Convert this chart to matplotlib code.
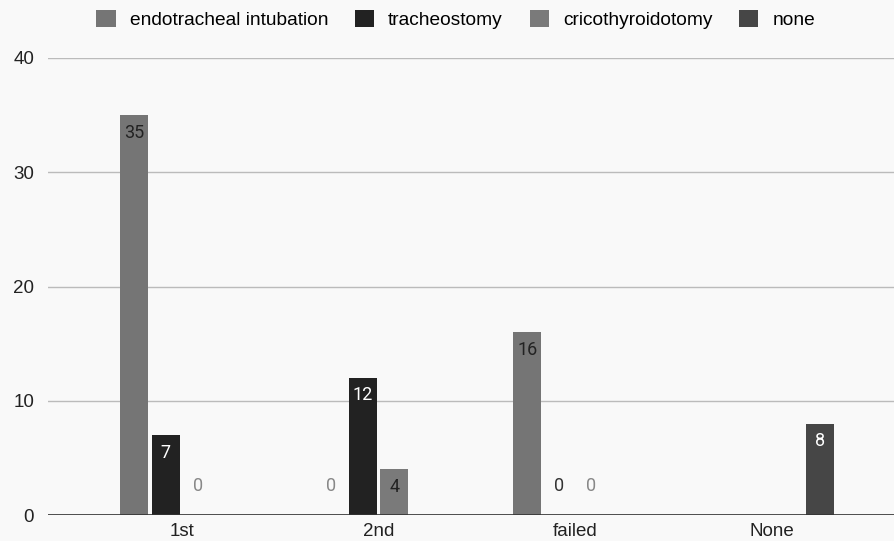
import numpy as np
import matplotlib
matplotlib.use('Agg')
import matplotlib.pyplot as plt

categories = ['1st', '2nd', 'failed', 'None']
series = ['endotracheal intubation', 'tracheostomy', 'cricothyroidotomy', 'none']
endo = [35, 0, 16, None]
trach = [7, 12, 0, None]
crico = [0, 4, 0, None]
none = [None, None, None, 8]
values = [endo, trach, crico, none]
colors = ['#757575', '#222222', '#7a7a7a', '#464646']
label_colors = ['#222222', '#ffffff', '#222222', '#ffffff']

plt.rcParams['font.family'] = ['Liberation Sans', 'DejaVu Sans']

fig = plt.figure(figsize=(8.94, 5.41), dpi=100)
fig.patch.set_facecolor('#f9f9f9')
ax = fig.add_axes([48/894, (541-515)/541, 1 - 48/894, (515-58)/541])
ax.set_facecolor('#f9f9f9')

x = np.arange(len(categories))
step = 0.162
width = 0.142
for i, (vals, c) in enumerate(zip(values, colors)):
    offs = (i - 1.5) * step
    for j, v in enumerate(vals):
        if v is None:
            continue
        xx = x[j] + offs
        if v > 0:
            ax.bar(xx, v, width=width, color=c, zorder=3)
            ax.text(xx, v - 0.75, str(v), ha='center', va='top', fontsize=13,
                    family=['Roboto', 'DejaVu Sans'],
                    color=label_colors[i], zorder=4)
        else:
            ax.text(xx, 2.5, '0', ha='center', va='center', fontsize=13,
                    family=['Roboto', 'DejaVu Sans'],
                    color='#888888' if i != 1 else '#333333', zorder=4)
    ax.bar(np.nan, 0, color=c, label=series[i])

ax.set_xlim(-0.68, 3.62)
ax.set_ylim(0, 40)
ax.set_yticks([0, 10, 20, 30, 40])
ax.set_xticks(x)
ax.set_xticklabels(categories)
ax.tick_params(axis='both', length=0, labelsize=13.5, colors='#222222')
ax.tick_params(axis='x', pad=6)
ax.tick_params(axis='y', pad=10)
ax.grid(axis='y', color='#bbbbbb', linewidth=1, zorder=0)
for s in ax.spines.values():
    s.set_visible(False)
ax.axhline(0, color='#333333', linewidth=1.2, zorder=5)

ax.legend(loc='center', bbox_to_anchor=(0.482, 1.085), ncol=4, frameon=False,
          fontsize=13.8, handlelength=1.0, handleheight=1.0, columnspacing=1.4,
          handletextpad=0.73, borderpad=0, borderaxespad=0)

plt.savefig('out.png', dpi=100, facecolor=fig.get_facecolor())
